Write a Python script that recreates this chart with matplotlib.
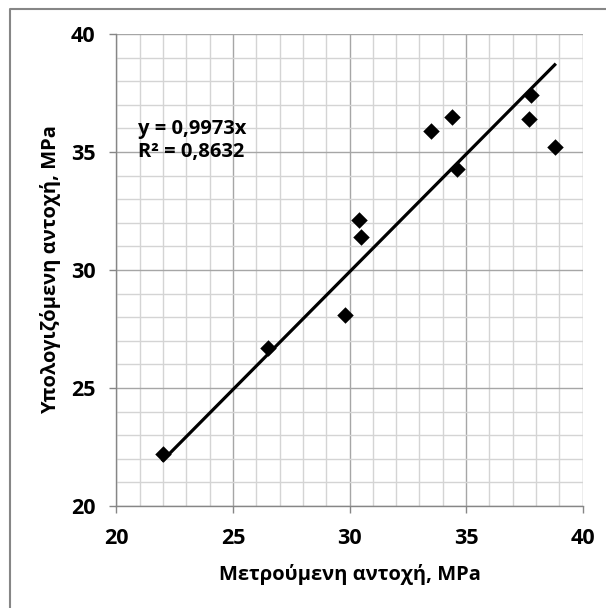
import numpy as np
import matplotlib
matplotlib.use("Agg")
import matplotlib.pyplot as plt
from matplotlib.lines import Line2D

plt.rcParams["font.family"] = ["Open Sans", "Noto Sans", "DejaVu Sans"]
plt.rcParams["font.weight"] = "bold"

# measured vs computed strength, MPa
measured = [22.0, 26.5, 29.8, 30.4, 30.5, 33.5, 34.4, 34.6, 37.8, 37.7, 38.8]
computed = [22.2, 26.7, 28.1, 32.1, 31.4, 35.9, 36.5, 34.3, 37.4, 36.4, 35.2]
slope = 0.9973
eq_text = "y = 0,9973x\nR² = 0,8632"
ticks = [20, 25, 30, 35, 40]

fig = plt.figure(figsize=(6.06, 6.08), dpi=100)
ax = fig.add_axes([0.192, 0.1678, 0.7696, 0.7763])

# outer chart border (Excel chart area): only left and top edges are in the image
bx, by = 10 / 606, 1 - 9 / 608
fig.lines.append(Line2D([bx, bx, 1.0], [0.0, by, by], transform=fig.transFigure,
                        color="#868686", linewidth=1.5))

ax.set_xlim(20, 40)
ax.set_ylim(20, 40)
ax.set_xticks(ticks)
ax.set_yticks(ticks)
ax.set_xticks(np.arange(20, 41, 1), minor=True)
ax.set_yticks(np.arange(20, 41, 1), minor=True)
ax.grid(True, which="minor", color="#d4d4d4", linewidth=1.0)
ax.grid(True, which="major", color="#a6a6a6", linewidth=1.0)
ax.set_axisbelow(True)
ax.tick_params(which="minor", length=0)
ax.tick_params(which="major", length=5, width=1, color="#868686", direction="out",
               labelsize=15.5)
ax.tick_params(axis="x", pad=11)
ax.tick_params(axis="y", pad=10)
for s in ["top", "right"]:
    ax.spines[s].set_visible(False)
for s in ["left", "bottom"]:
    ax.spines[s].set_color("#868686")
    ax.spines[s].set_linewidth(1.0)

ax.scatter(measured, computed, marker="D", s=8.4 ** 2, color="black", zorder=3,
           linewidths=0)
xs = np.array([min(measured), max(measured)])
ax.plot(xs, slope * xs, color="black", linewidth=2.3, zorder=4)

ax.text(0.046, 0.775, eq_text, transform=ax.transAxes, fontsize=14.5,
        fontweight="bold", va="center", ha="left", linespacing=1.2)

ax.set_xlabel("Μετρούμενη αντοχή, MPa", fontsize=14.5, fontweight="bold", labelpad=11)
ax.set_ylabel("Υπολογιζόμενη αντοχή, MPa", fontsize=14.5, fontweight="bold", labelpad=7)

fig.savefig("out.png", dpi=100)
